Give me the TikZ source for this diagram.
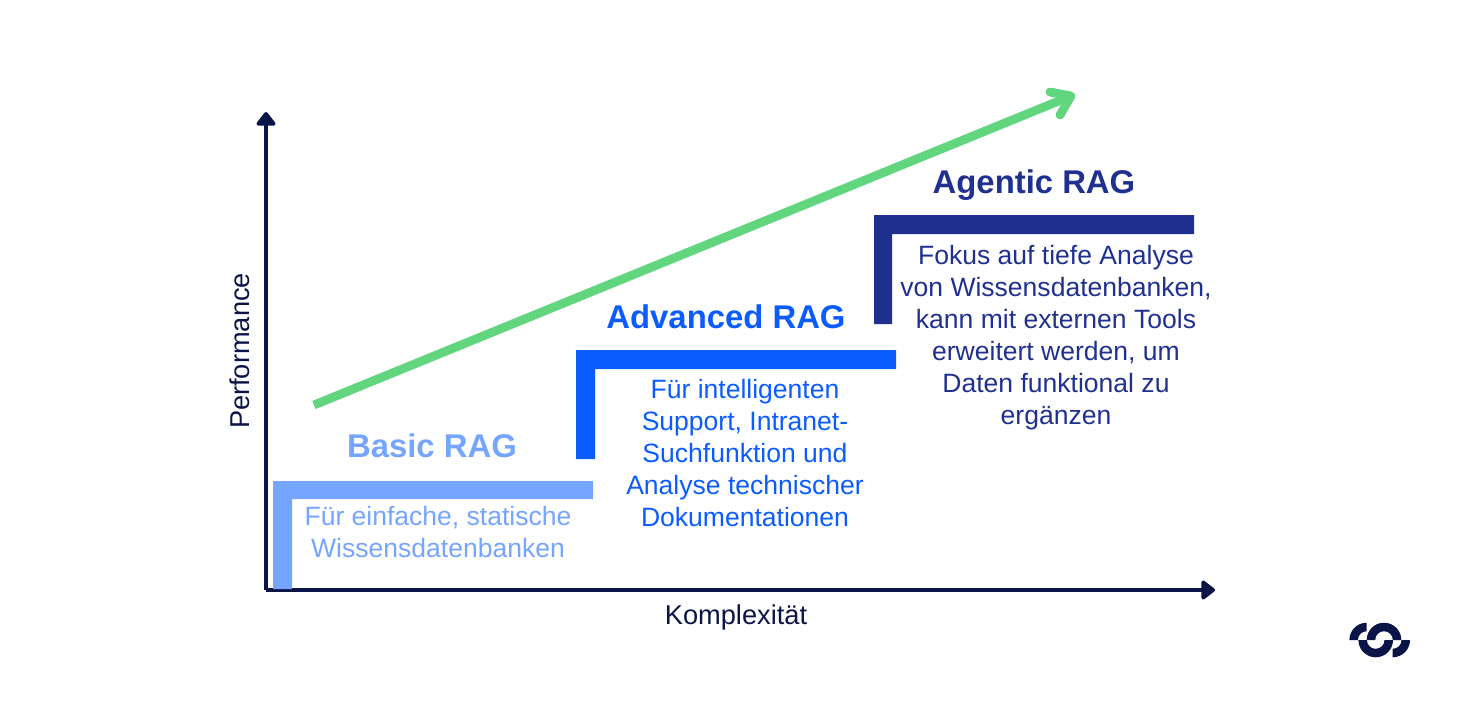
\documentclass[tikz,border=0pt]{standalone}
\usepackage{fontspec}
\usepackage{xcolor}
\usepackage{tikz}
\usetikzlibrary{positioning,arrows.meta}
\setmainfont{Liberation Sans}
\definecolor{ragnavy}{HTML}{0A1446}
\definecolor{raglight}{HTML}{76A5FF}
\definecolor{ragblue}{HTML}{0B5CFF}
\definecolor{ragdark}{HTML}{1F3090}
\definecolor{raggreen}{HTML}{62D67E}

\begin{document}
\begin{tikzpicture}[x=0.02cm, y=-0.02cm,
    axisline/.style={draw=ragnavy, line width=2.8pt, -{Triangle[length=8.5pt, width=12.5pt, round]}},
    axislabel/.style={font=\fontsize{15.5}{18}\selectfont, text=ragnavy},
    steptitle/.style={font=\fontsize{18.7}{22}\selectfont\bfseries, inner sep=0pt},
    steptext/.style={font=\fontsize{15.1}{18.2}\selectfont, align=center, inner sep=0pt}]
          \useasboundingbox (0,0) rectangle (1472,704);
          % axes
          \coordinate (origin) at (266,590);
          \coordinate (ytop) at (266,112);
          \coordinate (xend) at (1215,590);
          \draw[axisline] (origin) -- (ytop);
          \draw[axisline] (origin) -- (xend);
          \node[axislabel] (xlabel) at (736,617) {Komplexität};
          \node[axislabel, rotate=90] (ylabel) at (240,351) {Performance};
          % steps
          \fill[raglight] (273,481) -- (593,481) -- (593,499) -- (292,499) -- (292,589) -- (273,589) -- cycle;
          \fill[ragblue] (576,350) -- (896,350) -- (896,369) -- (595,369) -- (595,459) -- (576,459) -- cycle;
          \fill[ragdark] (874,215) -- (1194,215) -- (1194,234) -- (892,234) -- (892,324) -- (874,324) -- cycle;
          \node[steptitle, text=raglight] (basic) at (432,446) {Basic RAG};
          \node[steptitle, text=ragblue] (advanced) at (726,317) {Advanced RAG};
          \node[steptitle, text=ragdark] (agentic) at (1034,185) {Agentic RAG};
          \node[steptext, text=raglight] (basictext) at (438,532) {Für einfache, statische\\Wissensdatenbanken};
          \node[steptext, text=ragblue] (advancedtext) at (745,453) {Für intelligenten\\Support, Intranet-\\Suchfunktion und\\Analyse technischer\\Dokumentationen};
          \node[steptext, text=ragdark] (agentictext) at (1056,338) {Fokus auf tiefe Analyse\\von Wissensdatenbanken,\\kann mit externen Tools\\erweitert werden, um\\Daten funktional zu\\ergänzen};
          % growth arrow
          \coordinate (growstart) at (314,405);
          \coordinate (growtip) at (1071,96);
          \coordinate (growup) at (1050,92);
          \coordinate (growdown) at (1060,115);
          \draw[raggreen, line width=5pt] (growstart) -- (growtip);
          \draw[raggreen, line width=5pt, line cap=round, line join=round] (growup) -- (growtip) -- (growdown);
          % logo
          \fill[ragnavy] (1349.4,640) arc[start angle=180, end angle=270, radius=17.3] -- ++(0,8.5) arc[start angle=270, end angle=180, radius=8.8] -- cycle;
          \fill[ragnavy] (1366.7,640) arc[start angle=180, end angle=360, radius=17.3] -- ++(-8.5,0) arc[start angle=360, end angle=180, radius=8.8] -- cycle;
          \fill[ragnavy] (1358.4,640) arc[start angle=180, end angle=0, radius=17.3] -- ++(-8.5,0) arc[start angle=0, end angle=180, radius=8.8] -- cycle;
          \fill[ragnavy] (1410,640) arc[start angle=0, end angle=90, radius=17.3] -- ++(0,-8.5) arc[start angle=90, end angle=0, radius=8.8] -- cycle;
        \end{tikzpicture}
\end{document}
